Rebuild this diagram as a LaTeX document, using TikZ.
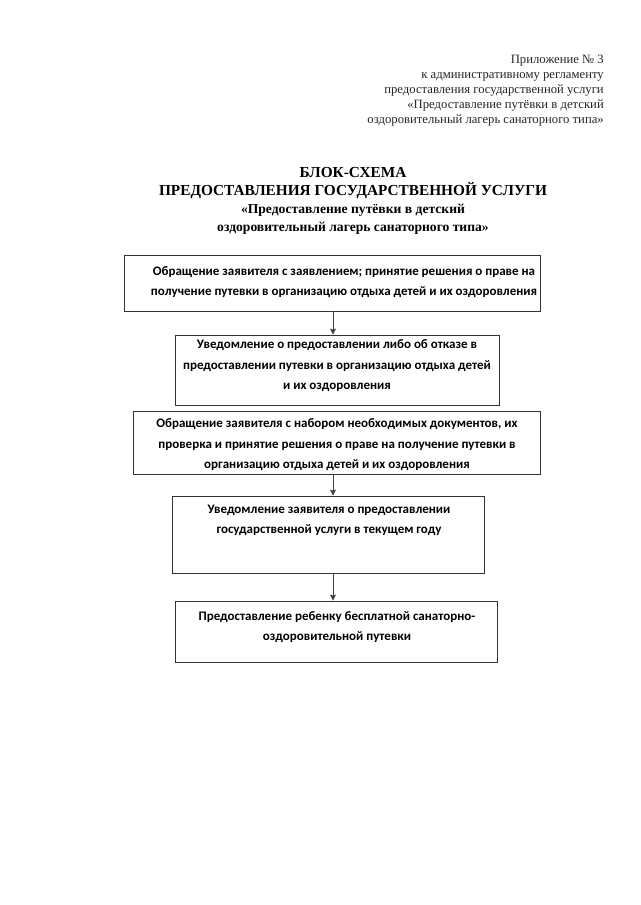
\documentclass[tikz,border=0pt]{standalone}
\usepackage{fontspec}
\setmainfont{Liberation Serif}
\newfontfamily\calfont{Carlito}
\usetikzlibrary{arrows.meta,positioning}
\tikzset{
  box/.style={draw=black!80, line width=0.8pt, rectangle, inner sep=0pt},
  boxtext/.style={font=\calfont\bfseries\fontsize{13}{20.5}\selectfont, align=center, inner sep=0pt},
  arr/.style={draw=black!75, line width=0.9pt, -{Stealth[length=6pt,width=6pt,inset=1pt]}},
  head/.style={font=\fontsize{12.7}{15}\selectfont, align=right, inner sep=0pt, text=black!85},
  title/.style={font=\bfseries\fontsize{15.3}{18}\selectfont, align=center, inner sep=0pt}
}
\begin{document}
\begin{tikzpicture}[x=1pt,y=-1pt]
\useasboundingbox (0,0) rectangle (640,905);
\fill[white] (0,0) rectangle (640,905);

\node[head, anchor=north east] (hdr) at (604,55) {Приложение № 3\\
к административному регламенту\\
предоставления государственной услуги\\
«Предоставление путёвки в детский\\
оздоровительный лагерь санаторного типа»};

\node[title, anchor=north] (ttl) at (353,167) {БЛОК-СХЕМА\\
ПРЕДОСТАВЛЕНИЯ ГОСУДАРСТВЕННОЙ УСЛУГИ\\
{\fontsize{13.6}{18}\selectfont «Предоставление путёвки в детский}\\
{\fontsize{13.6}{18}\selectfont оздоровительный лагерь санаторного типа»}};

\coordinate (ax) at (333,0);

\node[box, minimum width=416pt, minimum height=56pt] (b1) at (332,283) {};
\node[boxtext] (t1) at (344,282) {Обращение заявителя с заявлением; принятие решения о праве на\\
получение путевки в организацию отдыха детей и их оздоровления};

\node[box, minimum width=324pt, minimum height=70pt] (b2) at (337,370) {};
\node[boxtext] (t2) at (337,366) {Уведомление о предоставлении либо об отказе в\\
предоставлении путевки в организацию отдыха детей\\
и их оздоровления};

\node[box, minimum width=407pt, minimum height=63pt] (b3) at (336.5,442.5) {};
\node[boxtext] (t3) at (337,445) {Обращение заявителя с набором необходимых документов, их\\
проверка и принятие решения о праве на получение путевки в\\
организацию отдыха детей и их оздоровления};

\node[box, minimum width=312pt, minimum height=77pt] (b4) at (328,534.5) {};
\node[boxtext] (t4) at (329,520.5) {Уведомление заявителя о предоставлении\\
государственной услуги в текущем году};

\node[box, minimum width=322pt, minimum height=61pt] (b5) at (336,631.5) {};
\node[boxtext] (t5) at (337,627) {Предоставление ребенку бесплатной санаторно-\\
оздоровительной путевки};

\draw[arr] (b1.south -| ax) -- (b2.north -| ax);
\draw[arr] (b3.south -| ax) -- (b4.north -| ax);
\draw[arr] (b4.south -| ax) -- (b5.north -| ax);
\end{tikzpicture}
\end{document}
